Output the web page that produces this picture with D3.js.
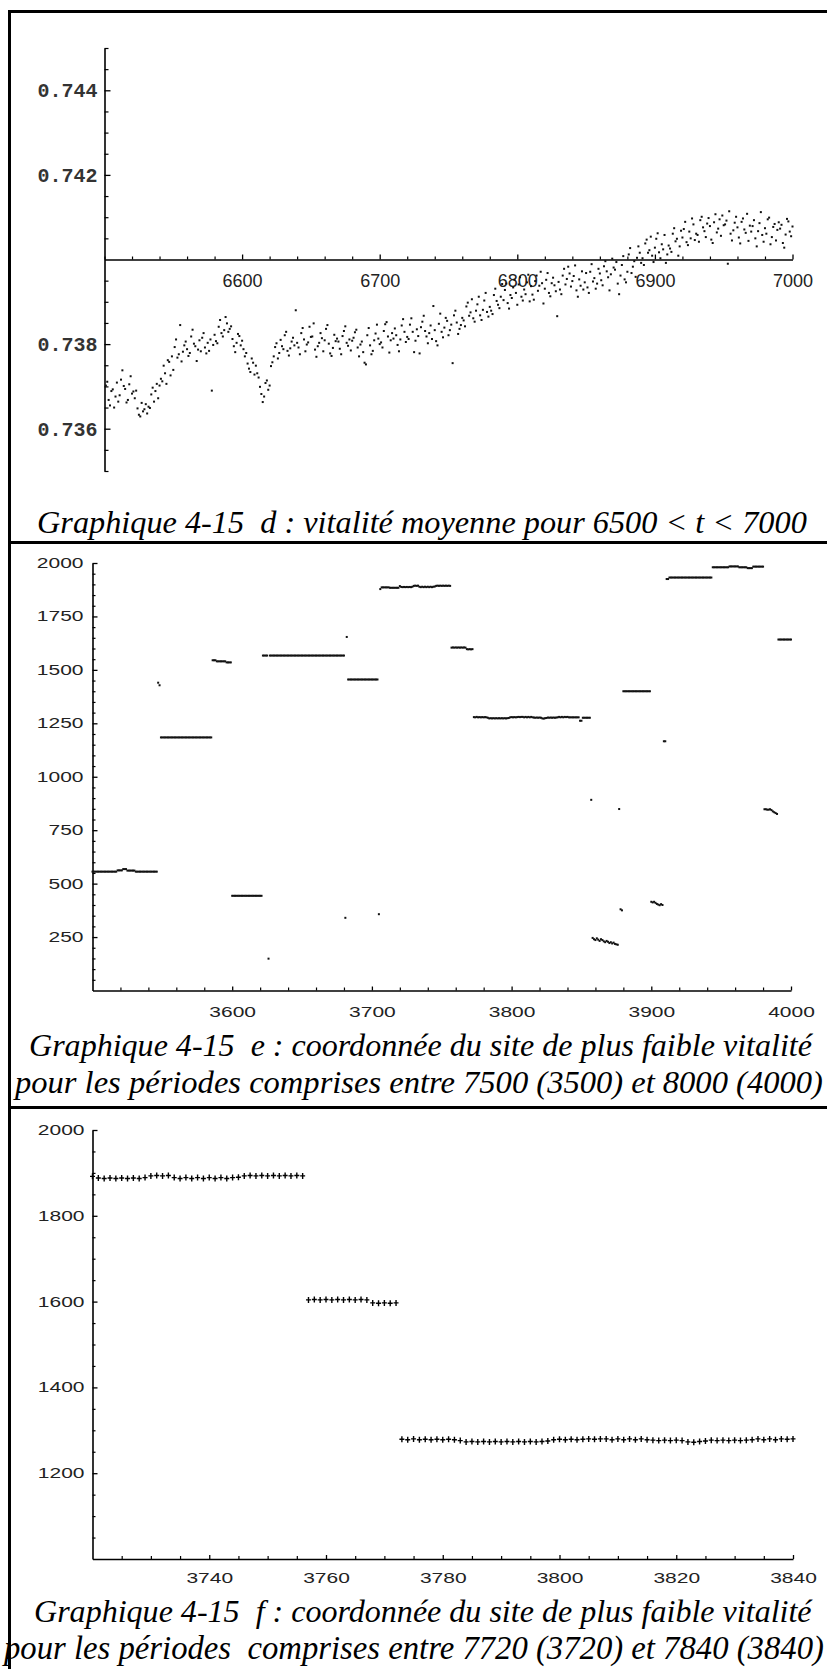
<!DOCTYPE html>
<html>
<head>
<meta charset="utf-8">
<script src="https://cdn.jsdelivr.net/npm/d3@7"></script>
<style>
  html, body { margin: 0; padding: 0; background: #fff; }
  svg { display: block; }
  .caption { font-family: "Liberation Serif", "Times New Roman", Times, serif; font-style: italic; font-size: 28px; white-space: pre; fill: #000; }
</style>
</head>
<body>
<svg id="fig" width="827" height="1669"></svg>
<script>
// ---------- data ----------
// Panel d: mean vitality for t = 6501 ... 7000, stored in hundred-thousandths above 0.73
const vitalityStartT = 6501;
const vitalityE5 = [
  702, 711, 668, 655, 689, 693, 650, 676, 709, 664,
  679, 716, 738, 701, 694, 662, 668, 705, 724, 683,
  688, 672, 690, 648, 633, 629, 661, 641, 646, 658,
  636, 652, 649, 681, 697, 664, 689, 706, 672, 702,
  718, 712, 749, 731, 706, 762, 758, 726, 771, 739,
  793, 811, 768, 776, 845, 759, 782, 797, 806, 788,
  772, 779, 818, 834, 801, 795, 760, 787, 809, 783,
  815, 826, 792, 778, 803, 784, 811, 690, 798, 822,
  807, 802, 841, 857, 826, 818, 833, 864, 849, 829,
  836, 842, 812, 795, 781, 803, 824, 819, 797, 808,
  788, 771, 779, 754, 742, 734, 766, 756, 728, 749,
  731, 721, 699, 682, 663, 676, 708, 714, 692, 702,
  748, 757, 771, 793, 802, 766, 779, 810, 795, 788,
  821, 829, 784, 773, 790, 806, 815, 797, 880, 803,
  792, 776, 826, 838, 811, 783, 799, 804, 841, 817,
  818, 849, 787, 770, 795, 803, 826, 814, 783, 809,
  836, 845, 801, 778, 772, 791, 822, 807, 813, 806,
  789, 776, 819, 831, 842, 803, 796, 811, 785, 808,
  815, 828, 834, 792, 771, 799, 806, 781, 756, 752,
  821, 838, 797, 776, 784, 809, 825, 846, 813, 800,
  804, 792, 831, 847, 852, 818, 780, 809, 826, 813,
  837, 821, 798, 783, 811, 844, 859, 829, 805, 817,
  812, 846, 861, 829, 781, 808, 835, 819, 778, 840,
  853, 867, 831, 818, 802, 826, 844, 812, 890, 833,
  807, 797, 848, 872, 829, 816, 839, 862, 855, 821,
  833, 846, 755, 868, 879, 851, 824, 836, 845, 862,
  856, 842, 889, 898, 867, 875, 906, 861, 853, 879,
  894, 912, 868, 857, 881, 903, 921, 876, 865, 888,
  879, 871, 916, 931, 902, 893, 885, 912, 942, 904,
  928, 943, 897, 884, 916, 909, 934, 952, 921, 893,
  941, 958, 912, 903, 929, 918, 946, 964, 901, 937,
  917, 905, 949, 962, 926, 938, 971, 944, 896, 931,
  952, 968, 921, 913, 944, 957, 939, 925, 866, 947,
  929, 918, 962, 978, 941, 954, 983, 967, 936, 949,
  961, 986, 927, 912, 953, 938, 972, 929, 946, 968,
  934, 921, 971, 989, 948, 956, 931, 943, 978, 967,
  951, 939, 984, 996, 972, 958, 927, 965, 1002, 981,
  976, 994, 943, 918, 962, 987, 1008, 953, 946, 971,
  1012, 1027, 968, 983, 996, 959, 1004, 1031, 1016, 992,
  1003, 987, 1038, 1047, 1016, 1022, 1054, 1009, 994, 1028,
  1049, 1062, 1017, 1003, 1036, 1024, 1058, 992, 1012, 1033,
  1026, 1018, 1061, 1074, 1043, 1049, 1009, 1031, 1068, 1052,
  1072, 1089, 1041, 1034, 1066, 1050, 1097, 1083, 1046, 1061,
  1058, 1042, 1093, 1101, 1076, 1067, 1053, 1085, 1098, 1079,
  1047, 1039, 1088, 1107, 1064, 1073, 1095, 1056, 1104, 1081,
  1083, 1092, 990, 1114, 1061, 1045, 1069, 1087, 1101, 1076,
  1052, 1038, 1089, 1097, 1071, 1063, 1108, 1044, 1080, 1066,
  1079, 1093, 1050, 1031, 1067, 1086, 1112, 1058, 1042, 1074,
  1061, 1095, 1099, 1036, 1053, 1077, 1084, 1045, 1070, 1088,
  1073, 1082, 1039, 1028, 1059, 1096, 1090, 1066, 1055, 1078
];

// Panels e and f: coordinate of the weakest site, per period.
// Periods 3720 ... 3840, one value each (panel f, also part of panel e)
const weakSiteStartT = 3720;
const weakSite = [
  1892,
  1888, 1887, 1888, 1887, 1888, 1887, 1888, 1887, 1889,
  1893, 1894, 1893, 1894,
  1889, 1887, 1889, 1887, 1889, 1887, 1889, 1887, 1889, 1887, 1889, 1890,
  1893, 1894, 1893, 1894, 1893, 1894, 1893, 1894, 1893, 1894, 1893,
  1604, 1605, 1604, 1605, 1604, 1605, 1604, 1605, 1604, 1605, 1604,
  1597, 1596, 1597, 1596, 1597,
  1279, 1278, 1280, 1278, 1279, 1278, 1279, 1278, 1279, 1278, 1276,
  1273, 1274, 1273, 1274, 1273, 1274, 1273, 1274, 1273, 1274, 1273, 1274, 1273, 1274, 1275,
  1278, 1279, 1278, 1279, 1278, 1279, 1280, 1279, 1280,
  1280, 1278, 1280, 1278, 1280, 1278, 1280, 1278, 1277, 1276, 1277, 1276, 1277, 1276,
  1273, 1272, 1274, 1275,
  1277, 1276, 1277, 1276, 1277, 1276, 1277, 1278, 1280, 1278, 1280, 1278, 1280, 1279, 1280
];
// Remaining periods of panel e as runs [first period, last period, site]
const weakSiteRuns = [
  [3500, 3517, 556], [3518, 3521, 562], [3522, 3524, 568], [3525, 3530, 561], [3531, 3546, 556],
  [3547, 3547, 1440], [3548, 3548, 1428], [3549, 3585, 1184],
  [3586, 3588, 1545], [3589, 3595, 1540], [3596, 3599, 1535],
  [3600, 3621, 443], [3622, 3625, 1567], [3626, 3626, 149], [3627, 3680, 1567],
  [3681, 3681, 340], [3682, 3682, 1654], [3683, 3704, 1455], [3705, 3705, 357],
  [3706, 3706, 1878], [3707, 3712, 1886], [3713, 3719, 1884],
  [3841, 3848, 1278], [3849, 3850, 1262], [3851, 3856, 1276], [3857, 3857, 892],
  [3858, 3858, 246], [3859, 3859, 240], [3860, 3860, 236], [3861, 3861, 244], [3862, 3862, 238],
  [3863, 3863, 232], [3864, 3864, 240], [3865, 3865, 236], [3866, 3866, 230], [3867, 3867, 226],
  [3868, 3868, 232], [3869, 3869, 228], [3870, 3870, 222], [3871, 3871, 226], [3872, 3872, 220],
  [3873, 3873, 224], [3874, 3874, 218], [3875, 3875, 216], [3876, 3876, 214],
  [3877, 3877, 849], [3878, 3878, 380], [3879, 3879, 375], [3880, 3899, 1400],
  [3900, 3900, 415], [3901, 3901, 412], [3902, 3902, 415], [3903, 3903, 410],
  [3904, 3904, 405], [3905, 3905, 402], [3906, 3906, 399], [3907, 3907, 404],
  [3908, 3908, 400], [3909, 3910, 1166], [3911, 3912, 1925], [3913, 3943, 1932],
  [3944, 3955, 1980], [3956, 3962, 1984], [3963, 3968, 1980], [3969, 3972, 1976], [3973, 3980, 1983],
  [3981, 3981, 848], [3982, 3982, 848], [3983, 3983, 846], [3984, 3984, 846], [3985, 3985, 848],
  [3986, 3986, 844], [3987, 3987, 838], [3988, 3988, 834], [3989, 3989, 830], [3990, 3990, 826],
  [3991, 4000, 1642]
];

// Tick values
const dXTicks = [6600, 6700, 6800, 6900, 7000];
const dYTicks = [0.736, 0.738, 0.742, 0.744];
const eXTicks = [3600, 3700, 3800, 3900, 4000];
const eYTicks = [250, 500, 750, 1000, 1250, 1500, 1750, 2000];
const fXTicks = [3740, 3760, 3780, 3800, 3820, 3840];
const fYTicks = [1200, 1400, 1600, 1800, 2000];

// Captions
const captionD = ["Graphique 4-15  d : vitalité moyenne pour 6500 < t < 7000"];
const captionE = ["Graphique 4-15  e : coordonnée du site de plus faible vitalité",
                  "pour les périodes comprises entre 7500 (3500) et 8000 (4000)"];
const captionF = ["Graphique 4-15  f : coordonnée du site de plus faible vitalité",
                  "pour les périodes  comprises entre 7720 (3720) et 7840 (3840)"];

// ---------- derived series ----------
const vitality = vitalityE5.map((v, i) => ({ t: vitalityStartT + i, v: 0.73 + v / 1e5 }));
const weakF = weakSite.map((s, i) => ({ t: weakSiteStartT + i, s }));
const weakE = [];
weakSiteRuns.forEach(([a, b, s]) => { for (let t = a; t <= b; t++) weakE.push({ t, s }); });
weakF.forEach(d => weakE.push(d));
weakE.sort((p, q) => p.t - q.t);

// ---------- drawing ----------
const svg = d3.select("#fig");

// page frame and panel separators
const frame = svg.append("g").attr("stroke", "#000").attr("stroke-width", 3);
frame.append("line").attr("x1", 9.5).attr("x2", 9.5).attr("y1", 10).attr("y2", 1669);
frame.append("line").attr("x1", 8).attr("x2", 827).attr("y1", 11.5).attr("y2", 11.5);
frame.append("line").attr("x1", 8).attr("x2", 827).attr("y1", 542.5).attr("y2", 542.5);
frame.append("line").attr("x1", 8).attr("x2", 827).attr("y1", 1107.5).attr("y2", 1107.5);

function styleAxis(g) {
  g.selectAll(".domain").attr("stroke", "#000").attr("stroke-width", 1.6);
  g.selectAll(".tick line").attr("stroke", "#000").attr("stroke-width", 1.3);
}
function minorAxis(g) {
  g.select(".domain").remove();
  g.selectAll(".tick line").attr("stroke", "#000").attr("stroke-width", 1.2);
  g.selectAll(".tick text").remove();
}
function notIn(list) { return v => !list.some(m => Math.abs(m - v) < 1e-9); }

// Caption lines: the font size is chosen so that each line's natural width spans x0..x1
function caption(lines, x0, x1, baselines) {
  lines.forEach((txt, i) => {
    const t = svg.append("text").attr("class", "caption")
      .attr("x", x0[i]).attr("y", baselines[i]).text(txt);
    const w = t.node().getComputedTextLength();
    const target = x1[i] - x0[i];
    if (w > 0) t.style("font-size", (28 * target / w).toFixed(2) + "px");
  });
}

// ===== Panel d =====
{
  const x = d3.scaleLinear().domain([6500, 7000]).range([104.5, 792.5]);
  const y = d3.scaleLinear().domain([0.735, 0.745]).range([471, 48]);
  const g = svg.append("g");

  const xMinor = d3.range(6500, 7001, 20).filter(notIn(dXTicks));
  const yMinor = d3.range(0, 21).map(i => +(0.735 + i * 0.0005).toFixed(4)).filter(notIn(dYTicks.concat([0.74])));

  g.append("g").attr("transform", `translate(0,${y(0.74)})`)
    .call(d3.axisBottom(x).tickValues(xMinor).tickSizeInner(-3).tickSizeOuter(0).tickFormat(""))
    .call(minorAxis);
  g.append("g").attr("transform", `translate(${x(6500)},0)`)
    .call(d3.axisLeft(y).tickValues(yMinor).tickSizeInner(-4).tickSizeOuter(0).tickFormat(""))
    .call(minorAxis);

  const xa = g.append("g").attr("transform", `translate(0,${y(0.74)})`)
    .call(d3.axisBottom(x).tickValues(dXTicks).tickSizeInner(-5).tickSizeOuter(0).tickPadding(15).tickFormat(d3.format("d")))
    .call(styleAxis);
  xa.selectAll("text").attr("font-family", "Liberation Sans, Arial, sans-serif").attr("font-size", 18).attr("fill", "#222");

  const ya = g.append("g").attr("transform", `translate(${x(6500)},0)`)
    .call(d3.axisLeft(y).tickValues(dYTicks).tickSizeInner(-6).tickSizeOuter(0).tickPadding(7).tickFormat(d3.format(".3f")))
    .call(styleAxis);
  ya.selectAll("text").attr("font-family", "Liberation Mono, Courier New, monospace").attr("font-size", 20)
    .attr("font-weight", "bold").attr("fill", "#333");

  g.append("g").selectAll("rect").data(vitality).join("rect")
    .attr("x", d => x(d.t) - 1).attr("y", d => y(d.v) - 1)
    .attr("width", 2).attr("height", 2).attr("fill", "#111");

  caption(captionD, [37], [807], [533]);
}

// ===== Panel e =====
{
  const x = d3.scaleLinear().domain([3500, 4000]).range([92.5, 791]);
  const y = d3.scaleLinear().domain([0, 2000]).range([990.5, 563]);
  const g = svg.append("g");

  const xMinor = d3.range(3520, 4000, 20).filter(notIn(eXTicks));
  const yMinor = d3.range(50, 2000, 50).filter(notIn(eYTicks));

  g.append("g").attr("transform", `translate(0,${y(0)})`)
    .call(d3.axisBottom(x).tickValues(xMinor).tickSizeInner(-3).tickSizeOuter(0).tickFormat(""))
    .call(minorAxis);
  g.append("g").attr("transform", `translate(${x(3500)},0)`)
    .call(d3.axisLeft(y).tickValues(yMinor).tickSizeInner(-3).tickSizeOuter(0).tickFormat(""))
    .call(minorAxis);

  const xa = g.append("g").attr("transform", `translate(0,${y(0)})`)
    .call(d3.axisBottom(x).tickValues(eXTicks).tickSizeInner(-4).tickSizeOuter(0).tickPadding(17).tickFormat(d3.format("d")))
    .call(styleAxis);
  xa.selectAll("text").attr("font-family", "Liberation Sans, Arial, sans-serif").attr("font-size", 14)
    .attr("fill", "#222").attr("transform", "scale(1.5,1)");

  const ya = g.append("g").attr("transform", `translate(${x(3500)},0)`)
    .call(d3.axisLeft(y).tickValues(eYTicks).tickSizeInner(-5).tickSizeOuter(0).tickPadding(9).tickFormat(d3.format("d")))
    .call(styleAxis);
  ya.selectAll("text").attr("font-family", "Liberation Sans, Arial, sans-serif").attr("font-size", 14)
    .attr("fill", "#222").attr("x", -9 / 1.5).attr("transform", "scale(1.5,1)");

  g.append("g").selectAll("rect").data(weakE).join("rect")
    .attr("x", d => x(d.t) - 1).attr("y", d => y(d.s) - 1)
    .attr("width", 2).attr("height", 2).attr("fill", "#111");

  caption(captionE, [29, 15], [812, 823], [1056, 1093]);
}

// ===== Panel f =====
{
  const x = d3.scaleLinear().domain([3720, 3840]).range([92.5, 793]);
  const y = d3.scaleLinear().domain([1000, 2000]).range([1559, 1130]);
  const g = svg.append("g");

  const xMinor = d3.range(3725, 3840, 5).filter(notIn(fXTicks));
  const yMinor = d3.range(1050, 2000, 50).filter(notIn(fYTicks));

  g.append("g").attr("transform", `translate(0,${y(1000)})`)
    .call(d3.axisBottom(x).tickValues(xMinor).tickSizeInner(-3).tickSizeOuter(0).tickFormat(""))
    .call(minorAxis);
  g.append("g").attr("transform", `translate(${x(3720)},0)`)
    .call(d3.axisLeft(y).tickValues(yMinor).tickSizeInner(-3).tickSizeOuter(0).tickFormat(""))
    .call(minorAxis);

  const xa = g.append("g").attr("transform", `translate(0,${y(1000)})`)
    .call(d3.axisBottom(x).tickValues(fXTicks).tickSizeInner(-4).tickSizeOuter(0).tickPadding(14).tickFormat(d3.format("d")))
    .call(styleAxis);
  xa.selectAll("text").attr("font-family", "Liberation Sans, Arial, sans-serif").attr("font-size", 14)
    .attr("fill", "#222").attr("transform", "scale(1.5,1)");

  const ya = g.append("g").attr("transform", `translate(${x(3720)},0)`)
    .call(d3.axisLeft(y).tickValues(fYTicks).tickSizeInner(-5).tickSizeOuter(0).tickPadding(8).tickFormat(d3.format("d")))
    .call(styleAxis);
  ya.selectAll("text").attr("font-family", "Liberation Sans, Arial, sans-serif").attr("font-size", 14)
    .attr("fill", "#222").attr("x", -8 / 1.5).attr("transform", "scale(1.5,1)");

  g.append("g").selectAll("path").data(weakF).join("path")
    .attr("transform", d => `translate(${x(d.t)},${y(d.s)})`)
    .attr("d", "M-2.5,0H2.5M0,-3V3")
    .attr("stroke", "#000").attr("stroke-width", 1.4).attr("fill", "none");

  caption(captionF, [34, 4], [812, 824], [1622, 1659]);
}
</script>
</body>
</html>
